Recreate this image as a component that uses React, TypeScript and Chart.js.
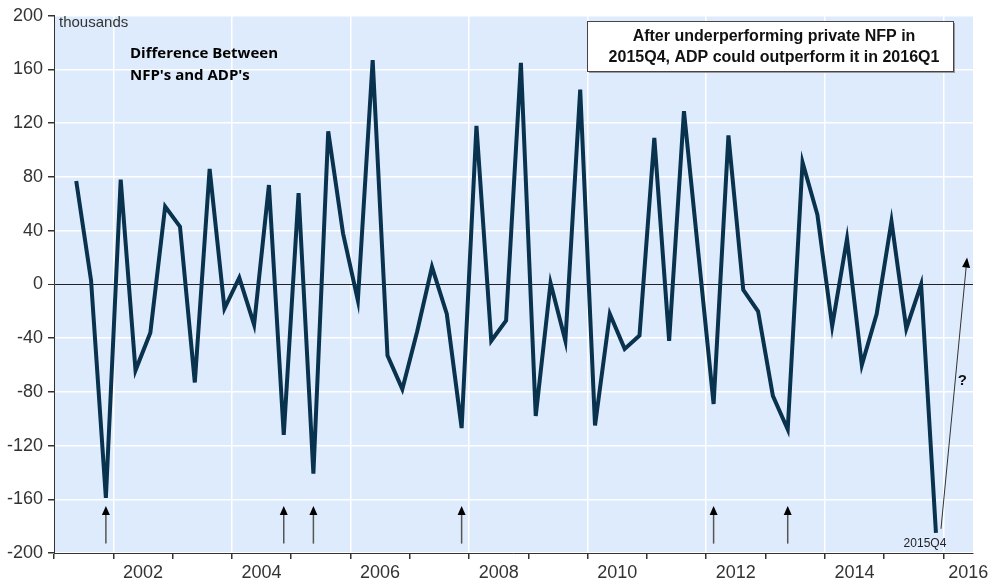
import React, { useEffect, useRef } from 'react';
import { Chart, registerables } from 'chart.js';

Chart.register(...registerables);

// ---- data ----
const quarters = [
  '2001Q2', '2001Q3', '2001Q4',
  '2002Q1', '2002Q2', '2002Q3', '2002Q4',
  '2003Q1', '2003Q2', '2003Q3', '2003Q4',
  '2004Q1', '2004Q2', '2004Q3', '2004Q4',
  '2005Q1', '2005Q2', '2005Q3', '2005Q4',
  '2006Q1', '2006Q2', '2006Q3', '2006Q4',
  '2007Q1', '2007Q2', '2007Q3', '2007Q4',
  '2008Q1', '2008Q2', '2008Q3', '2008Q4',
  '2009Q1', '2009Q2', '2009Q3', '2009Q4',
  '2010Q1', '2010Q2', '2010Q3', '2010Q4',
  '2011Q1', '2011Q2', '2011Q3', '2011Q4',
  '2012Q1', '2012Q2', '2012Q3', '2012Q4',
  '2013Q1', '2013Q2', '2013Q3', '2013Q4',
  '2014Q1', '2014Q2', '2014Q3', '2014Q4',
  '2015Q1', '2015Q2', '2015Q3', '2015Q4',
];

const diffValues = [
  77, 3, -159,
  78, -64, -36, 58,
  43, -73, 86, -18,
  5, -30, 74, -112,
  68, -141, 114, 38,
  -12, 167, -53, -78,
  -35, 13, -22, -107,
  118, -42, -27, 165,
  -98, 1, -42, 145,
  -105, -22, -48, -38,
  109, -42, 129, 20,
  -89, 111, -4, -20,
  -83, -108, 91, 52,
  -31, 34, -60, -22,
  47, -33, 0, -185,
];

const yTickValues = [-200, -160, -120, -80, -40, 0, 40, 80, 120, 160, 200];
const xLabelYears = [2002, 2004, 2006, 2008, 2010, 2012, 2014, 2016];
const xTickYears = [2001, 2002, 2003, 2004, 2005, 2006, 2007, 2008, 2009, 2010, 2011, 2012, 2013, 2014, 2015, 2016];
const arrowQuarters = ['2001Q4', '2004Q4', '2005Q2', '2007Q4', '2012Q1', '2013Q2'];
const arrowRange = [-193, -165];
const forecastArrow = { from: [2015.96, -182], to: [2016.4, 20] };
const questionMark = { text: '?', at: [2016.32, -72] };
const lastLabel = { text: '2015Q4', at: [2015.69, -193] };
const unitLabel = 'thousands';
const titleLines = ['Difference Between', "NFP's and ADP's"];
const boxLines = ['After underperforming private NFP in', '2015Q4, ADP could outperform it in 2016Q1'];

const X_MIN = 2001;
const X_MAX = 2016.5;

function qToNum(q: string): number {
  const year = parseInt(q.slice(0, 4), 10);
  const qq = parseInt(q.slice(5), 10);
  return year + (qq - 0.5) / 4;
}

const annotationPlugin = {
  id: 'annotations',
  beforeDraw(chart: any) {
    const { ctx, chartArea } = chart;
    ctx.save();
    ctx.fillStyle = '#DEEBFC';
    ctx.fillRect(chartArea.left, chartArea.top, chartArea.right - chartArea.left, chartArea.bottom - chartArea.top);
    ctx.restore();
  },
  afterDraw(chart: any) {
    const { ctx } = chart;
    const xs = chart.scales.x;
    const ys = chart.scales.y;
    ctx.save();

    // unit label
    ctx.fillStyle = '#333';
    ctx.font = '15px "Liberation Sans", Arial, sans-serif';
    ctx.textAlign = 'left';
    ctx.textBaseline = 'middle';
    ctx.fillText(unitLabel, 59, 23);

    // title
    ctx.fillStyle = '#000';
    ctx.font = 'bold 15px "Open Sans", sans-serif';
    ctx.fillText(titleLines[0], 130, 54);
    ctx.fillText(titleLines[1], 130, 76);

    // box
    const bx = 587, by = 21, bw = 366, bh = 50;
    ctx.fillStyle = '#9a9a9a';
    ctx.fillRect(bx + 2, by + 2, bw, bh);
    ctx.fillStyle = '#fff';
    ctx.fillRect(bx, by, bw, bh);
    ctx.strokeStyle = '#444';
    ctx.lineWidth = 1;
    ctx.strokeRect(bx + 0.5, by + 0.5, bw, bh);
    ctx.fillStyle = '#111';
    ctx.font = 'bold 16px "Liberation Sans", Arial, sans-serif';
    ctx.textAlign = 'center';
    ctx.fillText(boxLines[0], bx + bw / 2 + 4, 37);
    ctx.fillText(boxLines[1], bx + bw / 2 + 4, 58);

    // up arrows
    arrowQuarters.forEach((q) => {
      const x = xs.getPixelForValue(qToNum(q));
      const yb = ys.getPixelForValue(arrowRange[0]);
      const yt = ys.getPixelForValue(arrowRange[1]);
      ctx.strokeStyle = '#555';
      ctx.lineWidth = 1.5;
      ctx.beginPath();
      ctx.moveTo(x, yb);
      ctx.lineTo(x, yt + 8);
      ctx.stroke();
      ctx.fillStyle = '#000';
      ctx.beginPath();
      ctx.moveTo(x, yt);
      ctx.lineTo(x - 4, yt + 9);
      ctx.lineTo(x + 4, yt + 9);
      ctx.closePath();
      ctx.fill();
    });

    // forecast arrow
    const fx0 = xs.getPixelForValue(forecastArrow.from[0]);
    const fy0 = ys.getPixelForValue(forecastArrow.from[1]);
    const fx1 = xs.getPixelForValue(forecastArrow.to[0]);
    const fy1 = ys.getPixelForValue(forecastArrow.to[1]);
    const ang = Math.atan2(fy1 - fy0, fx1 - fx0);
    ctx.strokeStyle = '#333';
    ctx.lineWidth = 1;
    ctx.beginPath();
    ctx.moveTo(fx0, fy0);
    ctx.lineTo(fx1 - 8 * Math.cos(ang), fy1 - 8 * Math.sin(ang));
    ctx.stroke();
    ctx.fillStyle = '#000';
    ctx.beginPath();
    ctx.moveTo(fx1, fy1);
    ctx.lineTo(fx1 - 10 * Math.cos(ang) + 4 * Math.sin(ang), fy1 - 10 * Math.sin(ang) - 4 * Math.cos(ang));
    ctx.lineTo(fx1 - 10 * Math.cos(ang) - 4 * Math.sin(ang), fy1 - 10 * Math.sin(ang) + 4 * Math.cos(ang));
    ctx.closePath();
    ctx.fill();

    // question mark
    ctx.fillStyle = '#111';
    ctx.font = 'bold 15px "Liberation Sans", Arial, sans-serif';
    ctx.textAlign = 'center';
    ctx.fillText(questionMark.text, xs.getPixelForValue(questionMark.at[0]), ys.getPixelForValue(questionMark.at[1]));

    // last label
    ctx.font = '12px "Liberation Sans", Arial, sans-serif';
    ctx.fillStyle = '#222';
    ctx.fillText(lastLabel.text, xs.getPixelForValue(lastLabel.at[0]), ys.getPixelForValue(lastLabel.at[1]));

    ctx.restore();
  },
};

export default function App() {
  const canvasRef = useRef<HTMLCanvasElement | null>(null);

  useEffect(() => {
    if (!canvasRef.current) return;
    const points = quarters.map((q, i) => ({ x: qToNum(q), y: diffValues[i] }));
    const isInt = (v: number) => Math.abs(v - Math.round(v)) < 0.001;

    const chart = new Chart(canvasRef.current, {
      type: 'line',
      data: {
        datasets: [
          {
            data: points,
            borderColor: '#08324D',
            borderWidth: 4,
            pointRadius: 0,
            tension: 0,
            fill: false,
            borderJoinStyle: 'miter',
          },
        ],
      },
      options: {
        animation: false,
        responsive: true,
        maintainAspectRatio: false,
        devicePixelRatio: 1,
        layout: { padding: { top: 13, right: 26, left: 0, bottom: 0 } },
        plugins: { legend: { display: false }, tooltip: { enabled: false } },
        scales: {
          x: {
            type: 'linear',
            min: X_MIN,
            max: X_MAX,
            afterBuildTicks: (scale: any) => {
              const t: any[] = xTickYears.map((v) => ({ value: v }));
              xLabelYears.forEach((y) => t.push({ value: Math.min(y + 0.5, X_MAX - 0.08) }));
              t.sort((a, b) => a.value - b.value);
              scale.ticks = t;
            },
            afterFit: (scale: any) => {
              scale.height = 34;
            },
            grid: {
              color: (c: any) => {
                const v = c.tick ? c.tick.value : 0;
                if (isInt(v) && Math.round(v) % 2 === 0) return '#ffffff';
                return 'rgba(0,0,0,0)';
              },
              lineWidth: 1.5,
              tickColor: (c: any) => {
                const v = c.tick ? c.tick.value : 0;
                return isInt(v) ? '#333' : 'rgba(0,0,0,0)';
              },
              tickLength: 6,
              drawTicks: true,
            },
            border: { display: true, color: '#333', width: 1 },
            ticks: {
              autoSkip: false,
              maxRotation: 0,
              minRotation: 0,
              padding: 3,
              color: '#333',
              font: { size: 18, family: '"Liberation Sans", Arial, sans-serif' },
              callback: (value: any) => {
                const v = Number(value);
                if (isInt(v)) return '';
                return String(Math.floor(v));
              },
            },
          },
          y: {
            type: 'linear',
            min: -200,
            max: 200,
            afterBuildTicks: (scale: any) => {
              scale.ticks = yTickValues.map((v) => ({ value: v }));
            },
            afterFit: (scale: any) => {
              scale.width = 54;
            },
            grid: {
              color: (c: any) => (c.tick && c.tick.value === 0 ? '#222' : '#ffffff'),
              lineWidth: (c: any) => (c.tick && c.tick.value === 0 ? 1 : 1.5),
              tickColor: '#333',
              tickLength: 6,
            },
            border: { display: true, color: '#333', width: 1 },
            ticks: {
              padding: 5,
              color: '#333',
              font: { size: 18, family: '"Liberation Sans", Arial, sans-serif' },
            },
          },
        },
      },
      plugins: [annotationPlugin],
    } as any);

    return () => chart.destroy();
  }, []);

  return (
    <div style={{ position: 'fixed', left: 0, top: 0, width: 999, height: 587, background: '#fff' }}>
      <canvas ref={canvasRef} />
    </div>
  );
}
